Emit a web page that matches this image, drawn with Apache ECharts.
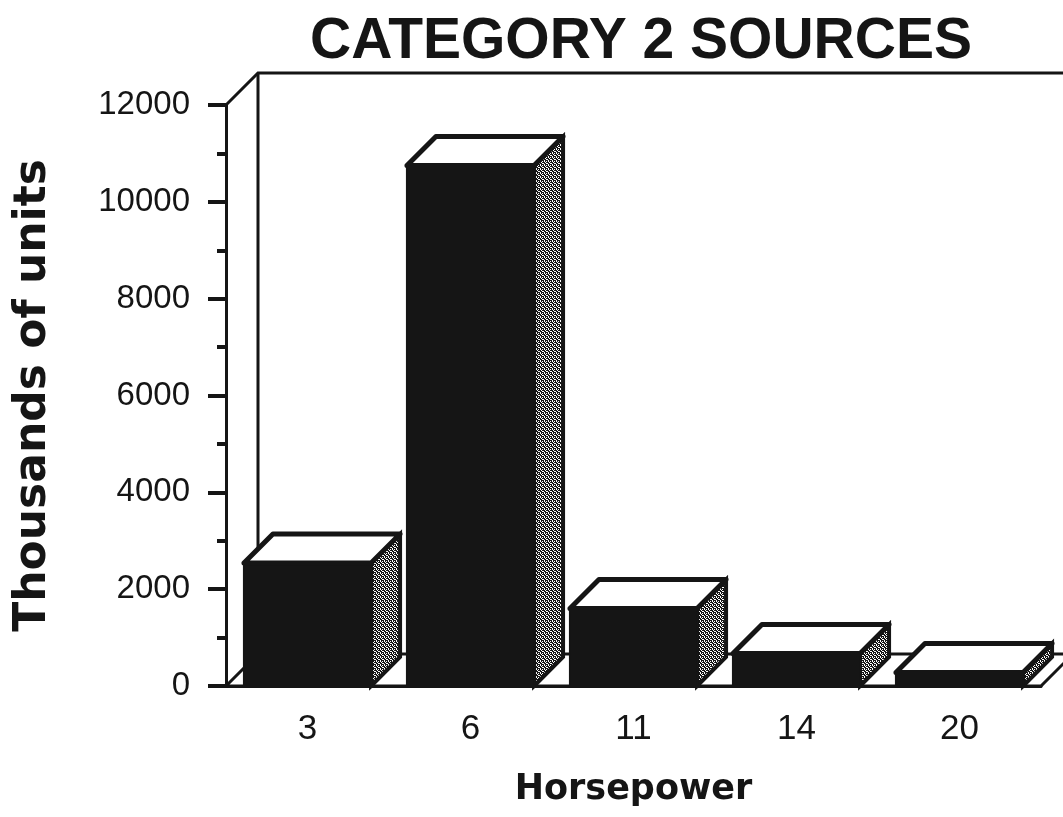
<!DOCTYPE html>
<html>
<head>
<meta charset="utf-8">
<title>Category 2 sources</title>
<script src="https://cdn.jsdelivr.net/npm/echarts@6/dist/echarts.min.js"></script>
<style>
  html, body { margin: 0; padding: 0; background: #fff; }
  #chart { width: 1063px; height: 817px; }
</style>
</head>
<body>
<div id="chart"></div>
<script>
// horsepower classes on the x axis
var horsepower = ['3', '6', '11', '14', '20']
// thousands of units per class (read at the front face of each bar)
var units = [2540, 10750, 1600, 670, 280]
// y axis range and tick step
var yMin = 0
var yMax = 12000
var yStep = 2000

var DEPTH = 29 // 3d offset of the bars
var WALL = 32 // 3d offset of floor and back wall
var INK = '#151515'

// grey stipple used on the side of the bars
function makeStipple() {
  var c = document.createElement('canvas')
  c.width = 4
  c.height = 4
  var ctx = c.getContext('2d')
  ctx.fillStyle = INK
  ctx.fillRect(0, 0, 4, 4)
  ctx.fillStyle = '#fff'
  // a few white specks on black
  ctx.fillRect(0, 0, 1, 1)
  ctx.fillRect(2, 1, 1, 1)
  ctx.fillRect(1, 2, 1, 1)
  ctx.fillRect(3, 3, 1, 1)
  ctx.fillRect(2, 3, 1, 1)
  ctx.fillRect(0, 1, 1, 1)
  return c
}
var stipple = makeStipple()

// floor and back wall, placed from the axes
function renderFrame(params, api) {
  var band = api.size([1, 0])[0]
  var first = api.coord([0, yMin])
  var last = api.coord([horsepower.length - 1, yMin])
  var topY = api.coord([0, yMax])[1]
  var x0 = first[0] - band / 2
  var x1 = last[0] + band / 2
  var y0 = first[1]
  var line = { stroke: INK, lineWidth: 3, fill: null }
  return {
    type: 'group',
    children: [
      {
        type: 'polygon',
        shape: { points: [[x0, y0], [x1, y0], [x1 + WALL, y0 - WALL], [x0 + WALL, y0 - WALL]] },
        style: { fill: '#fff', stroke: INK, lineWidth: 3 }
      },
      {
        type: 'polyline',
        shape: { points: [[x0, topY], [x0 + WALL, topY - WALL], [x1 + WALL + 40, topY - WALL]] },
        style: line
      },
      {
        type: 'line',
        shape: { x1: x0 + WALL, y1: topY - WALL, x2: x0 + WALL, y2: y0 - WALL },
        style: line
      }
    ]
  }
}

// one 3d bar: black front, stippled side, white top
function renderBar(params, api) {
  var base = api.coord([api.value(0), yMin])
  var top = api.coord([api.value(0), api.value(1)])
  var bw = api.size([1, 0])[0] * 0.78
  var x0 = base[0] - bw / 2
  var x1 = base[0] + bw / 2
  var yb = base[1]
  var yt = top[1]
  var d = DEPTH
  return {
    type: 'group',
    children: [
      {
        type: 'polygon',
        shape: { points: [[x1, yb], [x1 + d, yb - d], [x1 + d, yt - d], [x1, yt]] },
        style: { fill: { image: stipple, repeat: 'repeat' }, stroke: INK, lineWidth: 4 }
      },
      {
        type: 'rect',
        shape: { x: x0, y: yt, width: bw, height: yb - yt },
        style: { fill: INK, stroke: INK, lineWidth: 2 }
      },
      {
        type: 'polygon',
        shape: { points: [[x0, yt], [x0 + d, yt - d], [x1 + d, yt - d], [x1, yt]] },
        style: { fill: '#fff', stroke: INK, lineWidth: 5, lineJoin: 'round' }
      }
    ]
  }
}

var chart = echarts.init(document.getElementById('chart'))
chart.setOption({
  animation: false,
  backgroundColor: '#fff',
  title: {
    text: 'CATEGORY 2 SOURCES',
    left: 636,
    top: 9,
    textAlign: 'center',
    textStyle: {
      color: INK,
      fontFamily: 'Liberation Sans',
      fontWeight: 'bold',
      fontSize: 57
    }
  },
  grid: {
    left: 226,
    right: 22,
    top: 105,
    bottom: 131,
    containLabel: false,
    outerBoundsMode: 'none'
  },
  xAxis: {
    type: 'category',
    data: horsepower,
    name: 'Horsepower',
    nameLocation: 'middle',
    nameGap: 86,
    nameTextStyle: {
      color: INK,
      fontFamily: 'DejaVu Sans',
      fontWeight: 'bold',
      fontSize: 35
    },
    axisLine: { lineStyle: { color: INK, width: 3 } },
    axisTick: { length: 10, lineStyle: { color: INK, width: 4 } },
    axisLabel: {
      margin: 26,
      color: INK,
      fontFamily: 'Liberation Sans',
      fontSize: 35
    },
    splitLine: { show: false }
  },
  yAxis: {
    type: 'value',
    min: yMin,
    max: yMax,
    interval: yStep,
    name: 'Thousands of units',
    nameLocation: 'middle',
    nameGap: 170,
    nameTextStyle: {
      color: INK,
      fontFamily: 'DejaVu Sans',
      fontWeight: 'bold',
      fontSize: 44
    },
    axisLine: { show: true, lineStyle: { color: INK, width: 3 } },
    axisTick: { show: true, length: 18, lineStyle: { color: INK, width: 4 } },
    minorTick: { show: true, splitNumber: 2, length: 9, lineStyle: { color: INK, width: 4 } },
    axisLabel: {
      margin: 36,
      color: INK,
      fontFamily: 'Liberation Sans',
      fontSize: 33,
      formatter: function (v) { return String(v) }
    },
    splitLine: { show: false }
  },
  series: [
    {
      type: 'custom',
      name: 'frame',
      z: 1,
      clip: false,
      silent: true,
      renderItem: renderFrame,
      data: [[0, yMin]]
    },
    {
      type: 'custom',
      name: 'units',
      z: 3,
      clip: false,
      renderItem: renderBar,
      encode: { x: 0, y: 1 },
      data: units.map(function (v, i) { return [i, v] })
    }
  ]
})
</script>
</body>
</html>
